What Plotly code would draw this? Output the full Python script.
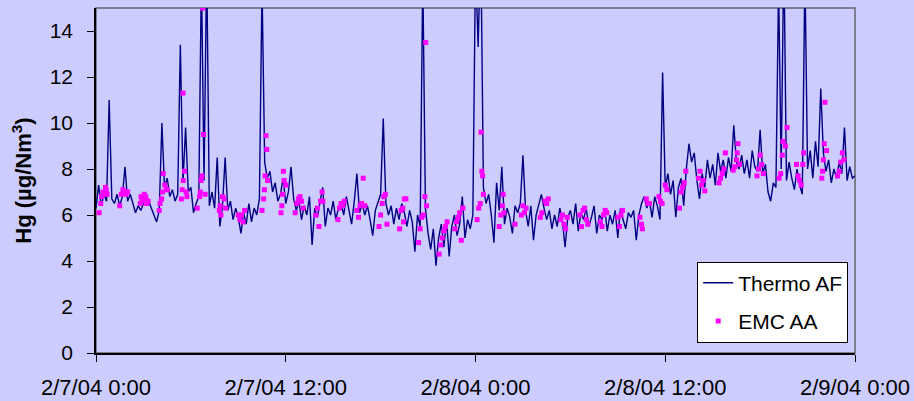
import pandas as pd
import plotly.graph_objects as go

# ---------------- data ----------------
start = pd.Timestamp("2004-02-07 00:00")

# Thermo AF: 10-minute readings, one row per hour (values in ug/Nm3)
thermo_rows = [
    [6.3, 7.3, 6.4, 6.9, 6.6, 11.0],   # h0
    [6.7, 6.5, 6.9, 6.4, 6.8, 8.1],    # h1
    [6.6, 6.9, 6.5, 6.1, 6.4, 6.2],    # h2
    [6.5, 6.9, 6.6, 6.3, 6.0, 5.7],    # h3
    [6.2, 10.0, 7.2, 7.6, 6.8, 7.1],   # h4
    [6.6, 6.9, 13.4, 7.4, 9.8, 7.0],   # h5
    [7.2, 6.1, 6.5, 6.8, 16.5, 7.5],   # h6
    [17.0, 6.4, 7.0, 6.3, 8.5, 5.5],   # h7
    [6.4, 8.5, 6.2, 6.6, 5.8, 6.3],    # h8
    [5.9, 5.2, 6.1, 5.6, 6.5, 5.7],    # h9
    [6.3, 6.0, 6.7, 16.0, 8.3, 7.6],   # h10
    [7.9, 7.0, 7.4, 6.6, 6.9, 7.6],    # h11
    [6.5, 7.0, 8.1, 6.7, 6.2, 6.6],    # h12
    [5.8, 6.4, 6.0, 6.8, 4.7, 6.3],    # h13
    [5.9, 6.6, 7.2, 5.5, 6.3, 6.0],    # h14
    [6.6, 5.8, 6.3, 6.5, 6.0, 6.8],    # h15
    [6.2, 5.6, 6.6, 7.8, 6.1, 6.5],    # h16
    [6.0, 6.4, 5.8, 5.1, 6.2, 6.6],    # h17
    [6.9, 10.2, 6.5, 6.0, 6.4, 5.6],   # h18
    [6.3, 5.8, 6.5, 6.1, 5.5, 6.2],    # h19
    [5.7, 4.4, 6.0, 5.5, 16.5, 6.3],   # h20
    [5.2, 4.5, 5.4, 3.8, 5.0, 5.6],    # h21
    [4.6, 5.8, 4.2, 5.5, 6.0, 5.1],    # h22
    [5.6, 6.8, 5.0, 5.8, 5.4, 6.0],    # h23
    [17.0, 13.3, 18.0, 7.2, 6.5, 6.9], # h24
    [6.0, 4.8, 7.4, 6.2, 8.1, 5.6],    # h25
    [6.3, 5.9, 5.2, 6.4, 6.1, 6.5],    # h26
    [8.6, 6.2, 5.5, 6.4, 4.9, 6.0],    # h27
    [6.5, 6.9, 6.3, 5.8, 6.2, 5.4],    # h28
    [6.0, 5.5, 6.3, 5.7, 4.6, 5.9],    # h29
    [6.2, 5.6, 6.5, 5.3, 6.1, 5.8],    # h30
    [6.3, 5.5, 5.9, 6.4, 5.2, 6.0],    # h31
    [5.8, 6.3, 5.3, 6.0, 5.6, 6.2],    # h32
    [5.0, 6.3, 5.8, 5.4, 6.1, 5.9],    # h33
    [6.2, 4.9, 6.0, 6.5, 6.8, 6.3],    # h34
    [6.6, 5.9, 6.8, 6.4, 5.8, 12.2],   # h35
    [7.2, 7.8, 6.9, 7.5, 5.9, 7.2],    # h36
    [7.6, 6.4, 8.0, 9.1, 8.3, 8.7],    # h37
    [7.5, 6.7, 7.8, 7.2, 8.4, 7.6],    # h38
    [8.2, 7.3, 8.7, 7.9, 8.4, 7.6],    # h39
    [8.5, 7.9, 9.9, 8.3, 8.0, 8.6],    # h40
    [7.8, 8.4, 7.6, 8.8, 8.1, 7.9],    # h41
    [9.7, 7.8, 8.2, 7.0, 6.6, 7.4],    # h42
    [7.2, 16.0, 8.0, 17.5, 7.5, 8.3],  # h43
    [7.6, 7.1, 8.0, 7.3, 6.9, 16.5],   # h44
    [8.0, 8.8, 7.6, 9.2, 8.1, 11.5],   # h45
    [8.7, 7.9, 8.4, 7.4, 8.0, 7.6],    # h46
    [8.3, 7.8, 9.8, 7.5, 8.1, 7.6],    # h47
    [7.7],                             # h48
]
thermo_values = [v for row in thermo_rows for v in row]
thermo_times = [start + pd.Timedelta(minutes=10 * i) for i in range(len(thermo_values))]

# EMC AA: hours since start and value
emc_hours = [
    0.2, 0.3, 0.35, 0.45, 0.5, 0.6, 0.65, 0.7,
    1.5, 1.6, 1.7, 1.75, 1.8, 1.9, 2.0,
    2.8, 2.85, 2.9, 3.0, 3.05, 3.15, 3.2, 3.3,
    4.0, 4.05, 4.15, 4.2, 4.25, 4.35, 4.45, 4.5,
    5.4, 5.45, 5.5, 5.52, 5.6, 5.7, 5.75,
    6.4, 6.55, 6.6, 6.65, 6.7, 6.75, 6.8, 6.9,
    7.8, 7.85, 7.9, 8.0,
    8.1, 8.2, 9.0, 9.1, 9.2, 9.3, 9.4,
    10.5, 10.6, 10.65, 10.7, 10.75, 10.8, 10.85,
    11.7, 11.75, 11.8, 11.85, 11.9, 12.0,
    12.6, 12.7, 12.8, 12.85, 12.9, 13.0, 13.1,
    13.9, 14.0, 14.1, 14.2, 14.3, 14.35,
    15.3, 15.4, 15.5, 15.6, 15.7,
    16.5, 16.6, 16.7, 16.8, 16.9, 17.0,
    17.9, 18.0, 18.1, 18.2, 18.3, 18.4,
    19.2, 19.3, 19.4, 19.45, 19.5, 19.6,
    20.4, 20.5, 20.6, 20.7, 20.8, 20.85, 20.9,
    21.7, 21.8, 21.9, 22.0, 22.1, 22.2,
    22.7, 22.8, 22.9, 23.0, 23.1, 23.2,
    24.1, 24.2, 24.3, 24.35, 24.4, 24.45, 24.5,
    25.5, 25.6, 25.7, 25.75, 25.8,
    26.5, 26.9, 27.0, 27.1, 27.2,
    28.1, 28.2, 28.4, 28.5, 28.6,
    29.4, 29.5, 29.6, 29.7, 29.8,
    30.6, 30.7, 30.8, 30.9, 31.0, 31.1,
    31.9, 32.0, 32.1, 32.2,
    32.3, 33.0, 33.1, 33.2, 33.3,
    34.4, 34.5, 34.55,
    34.8, 34.9, 35.0,
    35.6, 35.7, 35.8, 36.0, 36.1,
    36.9, 37.0, 37.1, 37.2, 37.3,
    38.1, 38.2, 38.3, 38.4, 38.5,
    39.4, 39.5, 39.6, 39.7, 39.8,
    40.3, 40.4, 40.5, 40.55, 40.6, 40.7,
    41.8, 41.9, 42.0, 42.1, 42.2,
    43.2, 43.3, 43.4, 43.45, 43.6, 43.7,
    44.3, 44.4, 44.5, 44.6, 44.7, 44.75,
    45.9, 45.95, 46.0, 46.05, 46.1, 46.2,
    46.9, 47.0, 47.1, 47.2, 47.3,
]
emc_values = [
    6.1, 6.5, 6.8, 7.0, 6.9, 7.2, 7.1, 6.9,
    6.4, 6.9, 7.1, 7.0, 7.0, 6.9, 7.0,
    6.5, 6.8, 6.7, 6.6, 6.9, 6.8, 6.5, 6.6,
    6.2, 6.5, 6.7, 7.0, 7.8, 7.3, 7.1, 7.1,
    6.7, 7.1, 11.3, 7.5, 7.9, 7.0, 6.8,
    6.3, 6.8, 7.0, 7.5, 7.7, 15.0, 9.5, 6.9,
    6.2, 6.4, 6.0, 6.8,
    6.7, 6.3, 6.0, 5.8, 6.0, 5.7, 6.2,
    6.2, 6.7, 7.1, 7.7, 9.45, 8.85, 7.5,
    6.1, 6.4, 6.9, 7.9, 7.5, 7.3,
    6.1, 6.5, 6.7, 6.6, 6.8, 6.6, 6.3,
    6.0, 6.3, 5.5, 6.6, 7.0, 6.6,
    5.8, 6.3, 6.5, 6.4, 6.6,
    6.2, 5.9, 6.4, 6.5, 7.6, 6.4,
    5.5, 6.0, 6.5, 6.8, 6.9, 5.6,
    5.4, 6.2, 6.3, 5.7, 6.7, 6.7,
    4.8, 5.4, 5.9, 6.0, 6.8, 13.5, 6.4,
    4.3, 4.7, 5.0, 5.3, 5.5, 5.7,
    5.4, 5.7, 5.9, 6.1, 4.9, 6.3,
    5.8, 6.3, 6.5, 9.6, 7.9, 7.7, 6.9,
    5.5, 6.0, 6.4, 6.9, 6.1,
    5.6, 6.0, 6.4, 6.1, 6.3,
    5.9, 6.1, 6.6, 6.5, 6.7,
    5.8, 6.0, 5.6, 5.4, 5.9,
    6.0, 5.5, 6.2, 6.3, 5.8, 5.6,
    5.7, 5.5, 6.0, 6.2,
    6.1, 5.9, 5.5, 6.0, 6.2,
    5.9, 5.6, 5.4,
    6.7, 6.5, 6.5,
    6.8, 6.6, 6.5, 7.3, 7.1,
    6.3, 7.0, 7.2, 7.4, 7.9,
    7.6, 7.9, 7.3, 7.5, 7.05,
    7.4, 7.6, 7.8, 8.0, 8.7,
    7.95, 8.1, 8.4, 8.7, 9.1, 8.2,
    7.7, 8.0, 8.6, 8.2, 7.8,
    7.6, 7.8, 8.6, 9.2, 9.0, 9.8,
    8.2, 7.7, 7.5, 7.3, 8.2, 8.7,
    7.6, 7.9, 8.4, 9.1, 10.9, 8.8,
    7.7, 7.9, 8.3, 8.7, 8.4,
]
emc_times = [start + pd.Timedelta(hours=h) for h in emc_hours]

tick_hours = [0, 12, 24, 36, 48]
tick_labels = ["2/7/04 0:00", "2/7/04 12:00", "2/8/04 0:00", "2/8/04 12:00", "2/9/04 0:00"]
tick_vals = [start + pd.Timedelta(hours=h) for h in tick_hours]

y_ticks = [0, 2, 4, 6, 8, 10, 12, 14]

# ---------------- figure ----------------
BG = "#CCCCFF"
FONT = "Liberation Sans, Arial, sans-serif"

fig = go.Figure()
fig.add_trace(go.Scatter(
    x=thermo_times, y=thermo_values, mode="lines", name="Thermo AF",
    line=dict(color="#000080", width=1.4), legendgroup="a",
))
fig.add_trace(go.Scatter(
    x=emc_times, y=emc_values, mode="markers", name="EMC AA",
    marker=dict(color="#FF00FF", symbol="square", size=5, line=dict(width=0)),
    legendgroup="b",
))

fig.update_layout(
    width=914, height=401,
    margin=dict(l=96, r=59, t=8, b=48),
    paper_bgcolor=BG, plot_bgcolor=BG,
    font=dict(family=FONT, size=22, color="black"),
    showlegend=True,
    legend=dict(
        x=0.991, y=0.03, xanchor="right", yanchor="bottom",
        bgcolor="white", bordercolor="black", borderwidth=1,
        font=dict(size=21, family=FONT), tracegroupgap=8,
        itemwidth=30,
    ),
    shapes=[dict(type="rect", xref="paper", yref="paper", x0=0, x1=1, y0=0, y1=1,
                 line=dict(color="#666666", width=1.5), layer="below")],
)
fig.update_xaxes(
    range=[tick_vals[0], tick_vals[-1]],
    tickmode="array", tickvals=tick_vals, ticktext=tick_labels,
    showgrid=False, zeroline=False, automargin=False,
    showline=True, linecolor="black", linewidth=1.5,
    ticks="outside", ticklen=7, tickcolor="black", tickwidth=1,
    tickfont=dict(size=22), ticklabelstandoff=7,
)
fig.update_yaxes(
    range=[0, 15], tickvals=y_ticks,
    showgrid=False, zeroline=False, automargin=False,
    showline=True, linecolor="black", linewidth=1.5,
    ticks="outside", ticklen=7, tickcolor="black", tickwidth=1,
    tickfont=dict(size=21), ticklabelstandoff=10,
    title=dict(text="<b>Hg (µg/Nm<sup>3</sup>)</b>", font=dict(size=22), standoff=12),
)

fig.write_html(
    "out.html",
    config={"displayModeBar": False},
    post_script="document.body.style.margin='0px';document.body.style.background='#CCCCFF';",
)
